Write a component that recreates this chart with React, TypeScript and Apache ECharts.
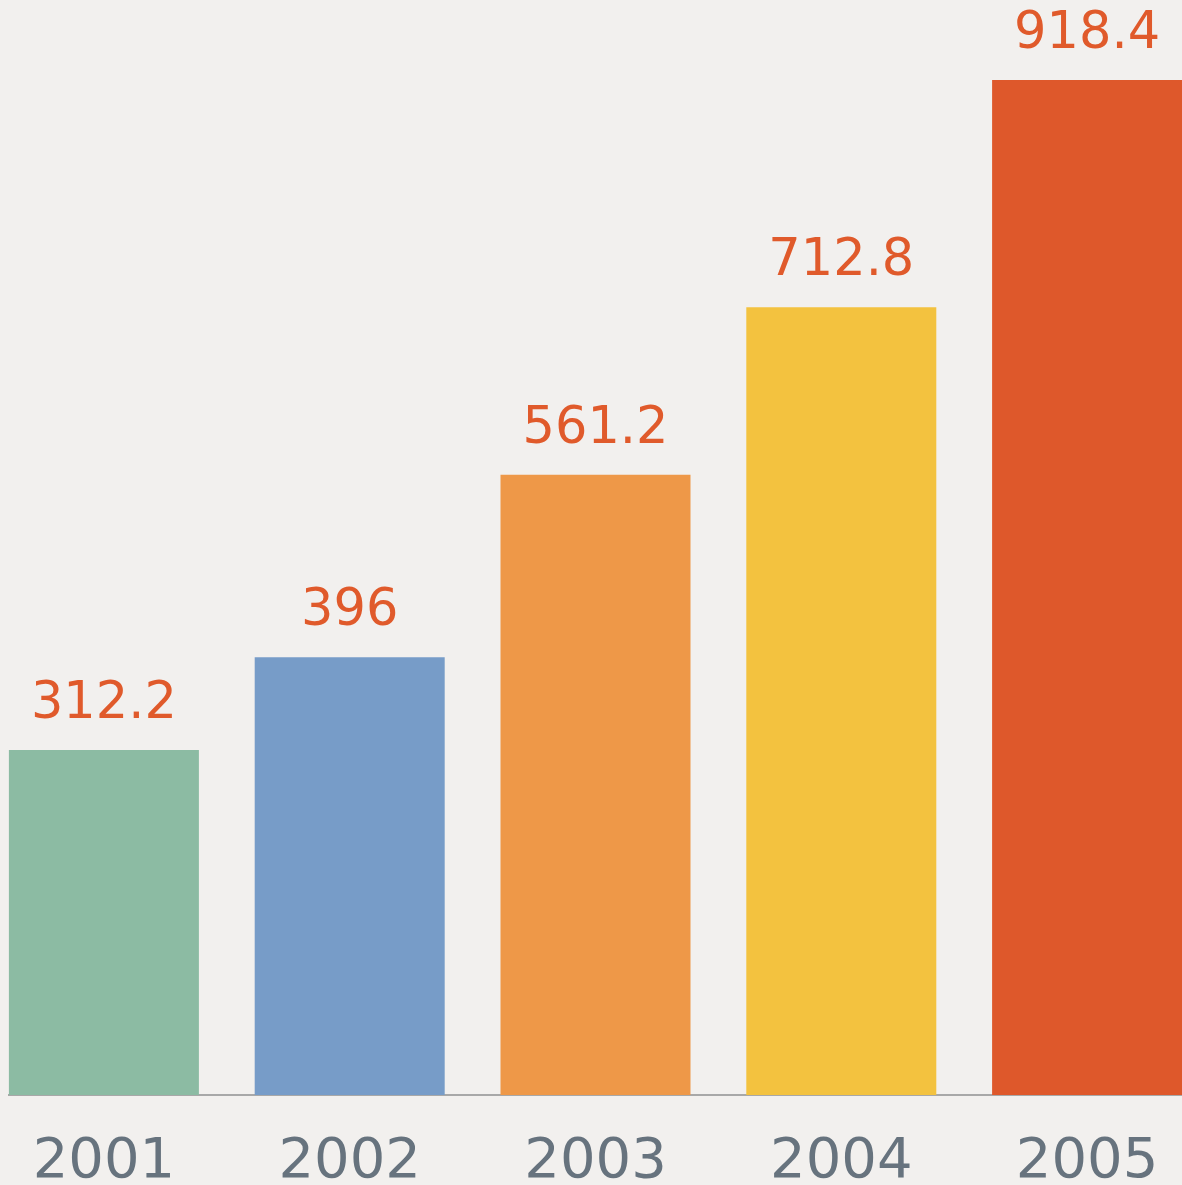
import React, { useEffect, useRef } from "react";
import * as echarts from "echarts";

const categories = ["2001", "2002", "2003", "2004", "2005"];
const values = [312.2, 396, 561.2, 712.8, 918.4];
const barColors = ["#8cbba3", "#779cc8", "#ee9848", "#f3c23f", "#de582b"];

const BG = "#f2f0ee";
const FONT = "DejaVu Sans";

export default function App() {
  const ref = useRef<HTMLDivElement>(null);
  useEffect(() => {
    document.body.style.background = BG;
    document.documentElement.style.background = BG;
    const chart = echarts.init(ref.current!, null, { renderer: "svg" });
    chart.setOption({
      animation: false,
      backgroundColor: BG,
      grid: { left: 0, right: 0, top: 72, bottom: 86, containLabel: false },
      xAxis: {
        type: "category",
        data: categories,
        axisLine: { show: true, lineStyle: { color: "#a8a8a8", width: 2 } },
        axisTick: { show: false },
        axisLabel: {
          color: "#67737e",
          fontFamily: FONT,
          fontSize: 56,
          lineHeight: 44,
          margin: 40,
        },
      },
      yAxis: {
        type: "value",
        min: 0,
        max: "dataMax",
        show: false,
        splitLine: { show: false },
      },
      series: [
        {
          type: "bar",
          barWidth: 190,
          data: values.map((v, i) => ({ value: v, itemStyle: { color: barColors[i] } })),
          label: {
            show: true,
            position: "top",
            distance: 24,
            color: "#e05a2b",
            fontFamily: FONT,
            fontSize: 51,
          },
        },
      ],
    });
    return () => chart.dispose();
  }, []);
  return (
    <div
      style={{
        position: "fixed",
        left: 8,
        top: 8,
        width: 1174,
        height: 1177,
        overflow: "hidden",
        background: BG,
      }}
    >
      <div ref={ref} style={{ width: 1229, height: 1177, marginLeft: -27 }} />
    </div>
  );
}
